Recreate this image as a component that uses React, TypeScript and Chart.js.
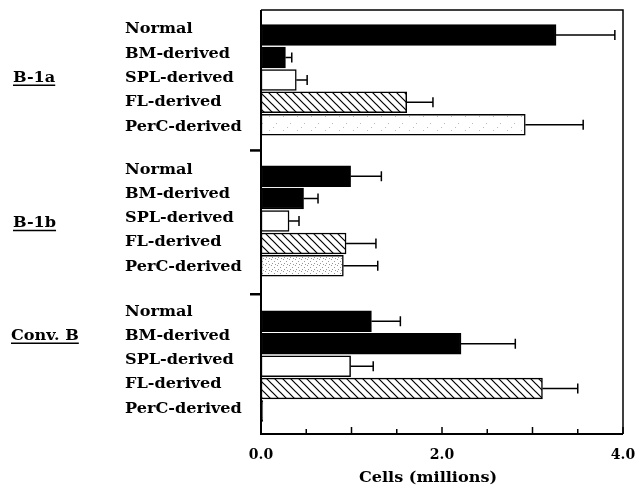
import { useEffect, useRef } from "react";
import { Chart, registerables } from "chart.js";
Chart.register(...registerables);

const groups = ["B-1a", "B-1b", "Conv. B"];
const categories = ["Normal", "BM-derived", "SPL-derived", "FL-derived", "PerC-derived"];
const b1aValues = [3.26, 0.27, 0.39, 1.61, 2.92];
const b1aErrors = [0.65, 0.07, 0.12, 0.29, 0.64];
const b1bValues = [0.99, 0.47, 0.31, 0.94, 0.91];
const b1bErrors = [0.34, 0.16, 0.11, 0.33, 0.38];
const convBValues = [1.22, 2.21, 0.99, 3.11, 0.02];
const convBErrors = [0.32, 0.6, 0.25, 0.39, 0];
const xTickLabels = [0, 2, 4];
const xTitle = "Cells (millions)";

// layout (in y-scale units, one unit = one bar)
const Y_MAX = 18.93;
const groupStart = [1.12, 7.42, 13.9];
const labelStart = [0.88, 7.14, 13.48];
const labelStep = 1.085;
const groupLabelRow = [2, 2.2, 1];
const separators = [6.27, 12.69];

const FONT = "bold 14px 'DejaVu Serif'";
const STRETCH = 1.15;

function makeHatch(): CanvasPattern | string {
  const c = document.createElement("canvas");
  c.width = 8; c.height = 8;
  const g = c.getContext("2d");
  if (!g) return "#fff";
  g.fillStyle = "#fff"; g.fillRect(0, 0, 8, 8);
  g.strokeStyle = "#000"; g.lineWidth = 1.2;
  g.beginPath();
  g.moveTo(-1, -1); g.lineTo(9, 9);
  g.moveTo(-5, 3); g.lineTo(1, 9);
  g.moveTo(7, -1); g.lineTo(13, 5);
  g.stroke();
  const p = g.createPattern(c, "repeat");
  return p || "#fff";
}

function makeStipple(size: number, dots: number[][], color: string): CanvasPattern | string {
  const c = document.createElement("canvas");
  c.width = size; c.height = size;
  const g = c.getContext("2d");
  if (!g) return "#fff";
  g.fillStyle = "#fff"; g.fillRect(0, 0, size, size);
  g.fillStyle = color;
  dots.forEach(([x, y]) => g.fillRect(x, y, 1, 1));
  const p = g.createPattern(c, "repeat");
  return p || "#fff";
}

function stretchedText(ctx: CanvasRenderingContext2D, text: string, x: number, y: number) {
  ctx.save();
  ctx.translate(x, y);
  ctx.scale(STRETCH, 1);
  ctx.fillText(text, 0, 0);
  ctx.restore();
  return ctx.measureText(text).width * STRETCH;
}

export default function App() {
  const ref = useRef<HTMLCanvasElement | null>(null);
  useEffect(() => {
    if (!ref.current) return;
    const values = [b1aValues, b1bValues, convBValues];
    const errors = [b1aErrors, b1bErrors, convBErrors];
    const hatch = makeHatch();
    const sparse = makeStipple(14, [[3, 4], [10, 11], [7, 1]], "#bbb");
    const dense = makeStipple(6, [[1, 1], [4, 3], [2, 5], [5, 0]], "#999");
    const points: { x: number; y: number }[] = [];
    const errs: number[] = [];
    const fills: (string | CanvasPattern)[] = [];
    values.forEach((vals, g) => {
      vals.forEach((v, i) => {
        points.push({ x: v, y: groupStart[g] + i });
        errs.push(errors[g][i]);
        fills.push(i < 2 ? "#000" : i === 2 ? "#fff" : i === 3 ? hatch : g === 1 ? dense : sparse);
      });
    });

    const deco = {
      id: "deco",
      afterDraw(chart: any) {
        const ctx = chart.ctx as CanvasRenderingContext2D;
        const xs = chart.scales.x;
        const ys = chart.scales.y;
        const { left, right, top, bottom } = chart.chartArea;
        ctx.save();
        ctx.strokeStyle = "#000";
        // error bars
        ctx.lineWidth = 1.5;
        points.forEach((p, k) => {
          if (!errs[k]) return;
          const y = ys.getPixelForValue(p.y);
          const x0 = xs.getPixelForValue(p.x);
          const x1 = xs.getPixelForValue(p.x + errs[k]);
          ctx.beginPath();
          ctx.moveTo(x0, y); ctx.lineTo(x1, y);
          ctx.moveTo(x1, y - 5); ctx.lineTo(x1, y + 5);
          ctx.stroke();
        });
        // frame
        ctx.lineWidth = 1.5;
        ctx.beginPath();
        ctx.moveTo(left, top); ctx.lineTo(right, top); ctx.lineTo(right, bottom);
        ctx.stroke();
        ctx.lineWidth = 2;
        ctx.beginPath();
        ctx.moveTo(left, top); ctx.lineTo(left, bottom); ctx.lineTo(right, bottom);
        ctx.stroke();
        // x minor ticks
        ctx.lineWidth = 1.5;
        for (let v = 0; v <= 4.001; v += 0.5) {
          const x = xs.getPixelForValue(v);
          const len = Math.abs(v - Math.round(v)) < 0.01 ? 7 : 5;
          ctx.beginPath();
          ctx.moveTo(x, bottom); ctx.lineTo(x, bottom - len);
          ctx.stroke();
        }
        // group separators
        ctx.lineWidth = 2.5;
        separators.forEach((s) => {
          const y = ys.getPixelForValue(s);
          ctx.beginPath();
          ctx.moveTo(left - 11, y); ctx.lineTo(left, y);
          ctx.stroke();
        });
        // labels
        ctx.fillStyle = "#000";
        ctx.font = FONT;
        ctx.textBaseline = "middle";
        ctx.textAlign = "left";
        groups.forEach((gName, g) => {
          categories.forEach((c, i) => {
            const y = ys.getPixelForValue(labelStart[g] + i * labelStep);
            stretchedText(ctx, c, 125, y);
          });
          const gy = ys.getPixelForValue(labelStart[g] + groupLabelRow[g] * labelStep);
          const gx = g === 2 ? 11 : 13;
          const w = stretchedText(ctx, gName, gx, gy);
          ctx.lineWidth = 1.5;
          ctx.beginPath();
          ctx.moveTo(gx, gy + 7); ctx.lineTo(gx + w, gy + 7);
          ctx.stroke();
        });
        // axis title
        const tw = ctx.measureText(xTitle).width * STRETCH;
        stretchedText(ctx, xTitle, (left + right) / 2 - 14 - tw / 2, 478);
        ctx.restore();
      },
    };

    const chart = new Chart(ref.current, {
      type: "bar",
      data: {
        datasets: [
          {
            data: points as any,
            backgroundColor: fills as any,
            borderColor: "#000",
            borderWidth: 1.5,
            borderSkipped: false,
            categoryPercentage: 1,
            barPercentage: 1,
          },
        ],
      },
      options: {
        indexAxis: "y",
        animation: false,
        responsive: false,
        layout: { padding: { left: 261, right: 0, top: 10, bottom: 0 } },
        plugins: { legend: { display: false }, tooltip: { enabled: false } },
        scales: {
          y: { type: "linear", min: 0, max: Y_MAX, reverse: true, display: false, offset: false },
          x: {
            type: "linear",
            min: 0,
            max: 4,
            grid: { display: false },
            border: { display: false },
            afterBuildTicks: (s: any) => { s.ticks = xTickLabels.map((v) => ({ value: v })); },
            afterFit: (s: any) => { s.height = 55; s.paddingRight = 12; s.paddingLeft = 0; },
            ticks: {
              autoSkip: false,
              maxRotation: 0,
              padding: 5,
              color: "#000",
              font: { family: "'DejaVu Serif'", weight: "bold", size: 14 },
              callback: (v: any) => Number(v).toFixed(1),
            },
            title: { display: false },
          },
        },
      },
      plugins: [deco],
    });
    return () => chart.destroy();
  }, []);
  return (
    <div style={{ position: "fixed", left: 0, top: 0, width: 635, height: 489, background: "#fff" }}>
      <canvas ref={ref} width={635} height={489} />
    </div>
  );
}
